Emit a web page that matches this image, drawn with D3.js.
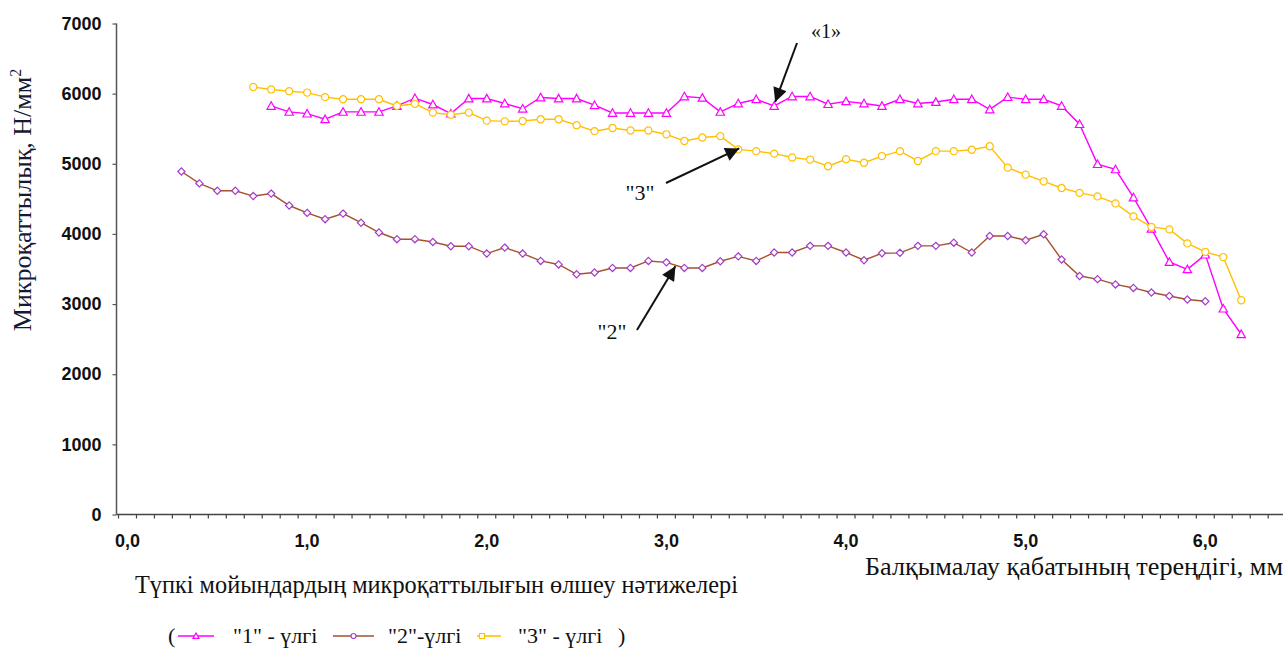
<!DOCTYPE html>
<html>
<head>
<meta charset="utf-8">
<script src="https://cdn.jsdelivr.net/npm/d3@7"></script>
<style>
  html, body { margin: 0; padding: 0; background: #fff; }
  svg { display: block; }
</style>
</head>
<body>
<svg id="chart" width="1285" height="653"></svg>
<script>
// ---------- DATA ----------
const yTicks = [0, 1000, 2000, 3000, 4000, 5000, 6000, 7000];
const xTickLabels = ["0,0", "1,0", "2,0", "3,0", "4,0", "5,0", "6,0"];
const xTickValues = [0, 1, 2, 3, 4, 5, 6];

const s1Start = 0.8; // "1" - үлгі
const s1Values = [5825, 5740, 5715, 5635, 5740, 5740, 5740, 5825, 5935, 5845, 5715, 5930, 5930,
  5860, 5785, 5945, 5930, 5930, 5835, 5725, 5725, 5725, 5725, 5960, 5940, 5740, 5860, 5920, 5825, 5960, 5960, 5850, 5890,
  5860, 5825, 5920, 5860, 5880, 5920, 5920, 5775, 5950, 5920, 5920, 5825, 5565, 4995, 4920, 4520, 4075, 3600, 3495, 3705, 2935, 2570];

const s2Start = 0.3; // "2"-үлгі
const s2Values = [4890, 4720, 4615, 4615, 4540, 4575, 4405, 4300, 4210, 4290, 4160, 4020, 3925, 3925, 3885, 3825, 3825, 3720,
  3805, 3720, 3615, 3565, 3425, 3450, 3515, 3515, 3615, 3595, 3515, 3515, 3610, 3680, 3615, 3735, 3735, 3830, 3830, 3735,
  3625, 3725, 3730, 3830, 3830, 3875, 3735, 3970, 3970, 3910, 3995, 3635, 3400, 3355, 3280, 3230, 3165, 3115, 3065, 3040];

const s3Start = 0.7; // "3" - үлгі
const s3Values = [6095, 6060, 6035, 6015, 5950, 5920, 5920, 5920, 5825, 5855, 5730, 5700, 5730, 5615,
  5605, 5610, 5635, 5635, 5550, 5465, 5510, 5475, 5475, 5420, 5325, 5375, 5395, 5205, 5180, 5145, 5090, 5060, 4965, 5065,
  5015, 5110, 5180, 5040, 5180, 5180, 5200, 5250, 4945, 4845, 4750, 4655, 4585, 4535, 4435, 4250, 4100, 4065, 3865, 3745, 3670, 3055];

const seriesNames = ["\"1\" - үлгі", "\"2\"-үлгі", "\"3\" - үлгі"];
const yTitle = "Микроқаттылық, Н/мм";
const xTitle = "Балқымалау қабатының тереңдігі, мм";
const caption = "Түпкі мойындардың микроқаттылығын өлшеу нәтижелері";
const annotations = [
  { text: "«1»", series: 0, x: 3.6 },
  { text: "\"3\"", series: 2, x: 3.4 },
  { text: "\"2\"", series: 1, x: 3.0 }
];

// ---------- BUILD ----------
function toPoints(start, vals) {
  return vals.map((v, i) => ({ x: Math.round((start + i * 0.1) * 10) / 10, y: v }));
}
const series = [
  { name: seriesNames[0], pts: toPoints(s1Start, s1Values), line: "#FF00FF", mark: "#FF00FF", shape: "tri" },
  { name: seriesNames[1], pts: toPoints(s2Start, s2Values), line: "#A5522A", mark: "#A43CC8", shape: "dia" },
  { name: seriesNames[2], pts: toPoints(s3Start, s3Values), line: "#FFC000", mark: "#FFC000", shape: "circ" }
];

const svg = d3.select("#chart");
const x = d3.scaleLinear().domain([0, 6]).range([127.5, 1205.3]);
const y = d3.scaleLinear().domain([0, 7000]).range([514.5, 23.5]);
const x0 = 116.5, axisRight = 1283;

const sans = "'Liberation Sans', Arial, sans-serif";
const serif = "'Liberation Serif', 'Times New Roman', serif";

// Y axis
const yAxis = d3.axisLeft(y).tickValues(yTicks).tickSize(4).tickFormat(d3.format("d"));
const gy = svg.append("g").attr("transform", `translate(${x0},0)`).call(yAxis);
gy.select(".domain").attr("stroke", "#555").attr("stroke-width", 1.5).attr("d", `M0,${y(7000)}V${y(0)}`);
gy.selectAll(".tick line").attr("stroke", "#555").attr("stroke-width", 1.2);
gy.selectAll(".tick text").attr("font-family", sans).attr("font-weight", "bold")
  .attr("font-size", 18).attr("fill", "#111").attr("x", -15);

// X axis line + minor ticks
const minor = d3.range(0, 65).map(k => k * 0.1 - 0.05);
const gx = svg.append("g").attr("transform", `translate(0,${y(0)})`);
gx.append("line").attr("x1", x0).attr("x2", axisRight).attr("y1", 0).attr("y2", 0)
  .attr("stroke", "#444").attr("stroke-width", 1.5);
gx.selectAll("line.mt").data(minor).join("line").attr("class", "mt")
  .attr("x1", d => x(d)).attr("x2", d => x(d)).attr("y1", 0).attr("y2", 4)
  .attr("stroke", "#444").attr("stroke-width", 1.2);
gx.selectAll("text.xl").data(xTickValues).join("text").attr("class", "xl")
  .attr("x", d => x(d)).attr("y", 32).attr("text-anchor", "middle")
  .attr("font-family", sans).attr("font-weight", "bold").attr("font-size", 18).attr("fill", "#111")
  .text((d, i) => xTickLabels[i]);

// Lines
const lineGen = d3.line().x(d => x(d.x)).y(d => y(d.y));
series.forEach(s => {
  svg.append("path").datum(s.pts).attr("d", lineGen)
    .attr("fill", "none").attr("stroke", s.line).attr("stroke-width", 1.4);
});

function markerPath(shape, r) {
  if (shape === "tri") return `M0,${-r}L${r},${r * 0.8}L${-r},${r * 0.8}Z`;
  if (shape === "dia") return `M0,${-r}L${r},0L0,${r}L${-r},0Z`;
  return d3.symbol().type(d3.symbolCircle).size(r * r * 3.1)();
}
series.forEach(s => {
  svg.append("g").selectAll("path").data(s.pts).join("path")
    .attr("transform", d => `translate(${x(d.x)},${y(d.y)})`)
    .attr("d", markerPath(s.shape, s.shape === "tri" ? 4.2 : 3.6))
    .attr("fill", "#fff").attr("stroke", s.mark).attr("stroke-width", 1.2);
});

// Annotations (arrows)
const defs = svg.append("defs");
defs.append("marker").attr("id", "ah").attr("viewBox", "0 0 10 10").attr("refX", 10).attr("refY", 5)
  .attr("markerWidth", 18).attr("markerHeight", 14).attr("markerUnits", "userSpaceOnUse")
  .attr("orient", "auto").append("path").attr("d", "M0,0L10,5L0,10Z").attr("fill", "#111");

function ptOf(a) {
  const s = series[a.series];
  return s.pts.find(p => Math.abs(p.x - a.x) < 1e-6);
}
// "1" arrow
{
  const p = ptOf(annotations[0]);
  svg.append("line").attr("x1", 797).attr("y1", 43).attr("x2", x(p.x) + 1).attr("y2", y(p.y) - 4)
    .attr("stroke", "#111").attr("stroke-width", 2).attr("marker-end", "url(#ah)");
  svg.append("text").attr("x", 826).attr("y", 38).attr("text-anchor", "middle")
    .attr("font-family", serif).attr("font-size", 20).attr("fill", "#111").text(annotations[0].text);
}
// "3" arrow
{
  const p = ptOf(annotations[1]);
  svg.append("line").attr("x1", 666).attr("y1", 183).attr("x2", x(p.x) + 1).attr("y2", y(p.y) - 1)
    .attr("stroke", "#111").attr("stroke-width", 2).attr("marker-end", "url(#ah)");
  svg.append("text").attr("x", 640).attr("y", 200).attr("text-anchor", "middle")
    .attr("font-family", serif).attr("font-size", 22).attr("fill", "#111").text(annotations[1].text);
}
// "2" arrow
{
  const p = ptOf(annotations[2]);
  svg.append("line").attr("x1", 637).attr("y1", 330).attr("x2", x(p.x) + 9).attr("y2", y(p.y) + 4)
    .attr("stroke", "#111").attr("stroke-width", 2).attr("marker-end", "url(#ah)");
  svg.append("text").attr("x", 612).attr("y", 339).attr("text-anchor", "middle")
    .attr("font-family", serif).attr("font-size", 22).attr("fill", "#111").text(annotations[2].text);
}

// Titles
const yt = svg.append("text").attr("transform", "translate(31,200) rotate(-90)")
  .attr("text-anchor", "middle").attr("font-family", serif).attr("font-size", 26).attr("fill", "#141a33");
yt.append("tspan").text(yTitle);
yt.append("tspan").attr("dy", -10).attr("font-size", 16).text("2");

svg.append("text").attr("x", 1283).attr("y", 575).attr("text-anchor", "end")
  .attr("font-family", serif).attr("font-size", 26.2).attr("fill", "#111").text(xTitle);
svg.append("text").attr("x", 135).attr("y", 593)
  .attr("font-family", serif).attr("font-size", 24.3).attr("fill", "#111").text(caption);

// Legend
const lg = svg.append("g").attr("transform", "translate(0,636)");
lg.append("text").attr("x", 168).attr("y", 7).attr("font-family", serif).attr("font-size", 22).attr("fill", "#111").text("(");
const legendItems = [
  { s: 0, x1: 178, x2: 214, tx: 233 },
  { s: 1, x1: 333, x2: 374, tx: 388 },
  { s: 2, x1: 477, x2: 501, tx: 518 }
];
legendItems.forEach(it => {
  const s = series[it.s];
  lg.append("line").attr("x1", it.x1).attr("x2", it.x2).attr("y1", 0).attr("y2", 0)
    .attr("stroke", s.line).attr("stroke-width", 1.6);
  const mx = it.s === 2 ? it.x1 + 5 : (it.x1 + it.x2) / 2;
  lg.append("path").attr("transform", `translate(${mx},0)`)
    .attr("d", it.s === 0 ? markerPath("tri", 3) : it.s === 1 ? d3.symbol().type(d3.symbolCircle).size(20)() : "M-2.5,-2.5h5v5h-5Z")
    .attr("fill", "#fff").attr("stroke", s.mark).attr("stroke-width", 1.2);
  lg.append("text").attr("x", it.tx).attr("y", 7).attr("font-family", serif).attr("font-size", 22)
    .attr("fill", "#111").text(s.name);
});
lg.append("text").attr("x", 618).attr("y", 7).attr("font-family", serif).attr("font-size", 22).attr("fill", "#111").text(")");
</script>
</body>
</html>
